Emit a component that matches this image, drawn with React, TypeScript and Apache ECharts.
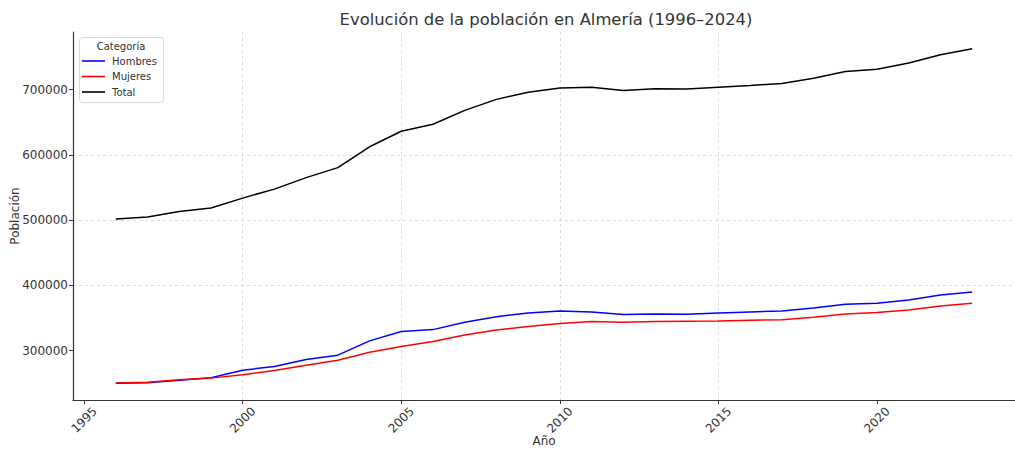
import React, { useEffect, useRef } from "react";
import * as echarts from "echarts";

const years = [1996, 1997, 1998, 1999, 2000, 2001, 2002, 2003, 2004, 2005, 2006, 2007, 2008, 2009, 2010, 2011, 2012, 2013, 2014, 2015, 2016, 2017, 2018, 2019, 2020, 2021, 2022, 2023];
const hombres = [249800, 250600, 254600, 258200, 269900, 275500, 286200, 292900, 314800, 329100, 332100, 343400, 352000, 357700, 360500, 359200, 355100, 356100, 355600, 357700, 359200, 360700, 365300, 370900, 372400, 377600, 385200, 389800];
const mujeres = [250200, 251500, 255100, 257700, 262800, 269400, 277600, 285200, 297400, 306100, 313800, 324000, 331600, 336700, 341300, 344400, 343400, 344400, 344900, 345400, 346400, 347400, 351000, 356100, 358200, 362200, 368400, 372400];
const total = [501800, 504900, 513400, 518600, 533800, 547600, 565250, 580500, 612500, 636400, 647100, 668400, 685200, 696300, 702700, 704000, 699000, 701500, 701000, 704000, 706500, 709600, 717700, 727900, 731400, 741100, 753800, 762900];
const xTicks = [1995, 2000, 2005, 2010, 2015, 2020];
const yTicks = [300000, 400000, 500000, 600000, 700000];
const seriesNames = ["Hombres", "Mujeres", "Total"];
const seriesColors = ["#0000ff", "#ff0000", "#000000"];
const titleText = "Evolución de la población en Almería (1996–2024)";

const FONT = "DejaVu Sans";

export default function App() {
  const ref = useRef<HTMLDivElement>(null);
  useEffect(() => {
    if (!ref.current) return;
    const chart = echarts.init(ref.current, null, { renderer: "svg" });
    const values = [hombres, mujeres, total];
    const all = ([] as number[]).concat(hombres, mujeres, total);
    const yMinD = Math.min(...all);
    const yMaxD = Math.max(...all);
    const yPad = (yMaxD - yMinD) * 0.05;
    const xPad = (years[years.length - 1] - years[0]) * 0.05;
    chart.setOption({
      animation: false,
      textStyle: { fontFamily: FONT },
      grid: { left: 73, right: 0, top: 32, bottom: 49, containLabel: false, outerBoundsMode: "none" },
      graphic: [
        {
          type: "text",
          x: 546,
          y: 19,
          style: {
            text: titleText,
            fontFamily: FONT,
            fontSize: 16.4,
            fill: "#333333",
            textAlign: "center",
            textVerticalAlign: "middle",
          },
        },
        {
          type: "rect",
          shape: { x: 79.5, y: 37.5, width: 84, height: 65, r: 3 },
          style: { fill: "rgba(255,255,255,0.85)", stroke: "#d8d8d8", lineWidth: 1 },
          z: 10,
        },
        {
          type: "text",
          x: 121,
          y: 46,
          z: 11,
          style: {
            text: "Categoría",
            fontFamily: FONT,
            fontSize: 10,
            fill: "#333333",
            textAlign: "center",
            textVerticalAlign: "middle",
          },
        },
      ],
      legend: {
        orient: "vertical",
        left: 82,
        top: 55,
        z: 12,
        data: seriesNames.map((n) => ({ name: n, icon: "rect" })),
        itemWidth: 23,
        itemHeight: 1.6,
        itemGap: 3.5,
        padding: 0,
        textStyle: { fontFamily: FONT, fontSize: 10, color: "#333333", lineHeight: 12, padding: [0, 0, 0, 2] },
      },
      xAxis: {
        type: "value",
        min: years[0] - xPad,
        max: years[years.length - 1] + xPad,
        interval: 5,
        name: "Año",
        nameLocation: "middle",
        nameGap: 35,
        nameMoveOverlap: false,
        nameTextStyle: { fontFamily: FONT, fontSize: 12, color: "#333333" },
        axisLine: { show: true, onZero: false, lineStyle: { color: "#333333", width: 1.2 } },
        axisTick: { show: true, customValues: xTicks, length: 4, lineStyle: { color: "#333333", width: 1 } },
        axisLabel: {
          customValues: xTicks,
          rotate: 45,
          align: "center",
          verticalAlign: "middle",
          margin: 20,
          fontFamily: FONT,
          fontSize: 12,
          color: "#333333",
          formatter: (v: number) => String(v),
        },
        splitLine: {
          show: true,
          showMinLine: false,
          showMaxLine: false,
          lineStyle: { color: "#cccccc", type: [3, 3], width: 0.7 },
        },
      },
      yAxis: {
        type: "value",
        min: yMinD - yPad,
        max: yMaxD + yPad,
        interval: 100000,
        name: "Población",
        nameLocation: "middle",
        nameGap: 52,
        nameMoveOverlap: false,
        nameRotate: 90,
        nameTextStyle: { fontFamily: FONT, fontSize: 12, color: "#333333" },
        axisLine: { show: true, lineStyle: { color: "#333333", width: 1.2 } },
        axisTick: { show: true, customValues: yTicks, length: 4, lineStyle: { color: "#333333", width: 1 } },
        axisLabel: {
          customValues: yTicks,
          margin: 5,
          fontFamily: FONT,
          fontSize: 12,
          color: "#333333",
          formatter: (v: number) => String(v),
        },
        splitLine: {
          show: true,
          showMinLine: false,
          showMaxLine: false,
          lineStyle: { color: "#cccccc", type: [3, 3], width: 0.7 },
        },
      },
      series: seriesNames.map((name, i) => ({
        name,
        type: "line",
        data: years.map((y, j) => [y, values[i][j]]),
        showSymbol: false,
        symbol: "none",
        lineStyle: { color: seriesColors[i], width: 1.5 },
        itemStyle: { color: seriesColors[i] },
        z: 2 + i,
      })),
    });
    return () => chart.dispose();
  }, []);
  return <div ref={ref} style={{ position: "absolute", left: 0, top: 0, width: 1015, height: 449 }} />;
}
